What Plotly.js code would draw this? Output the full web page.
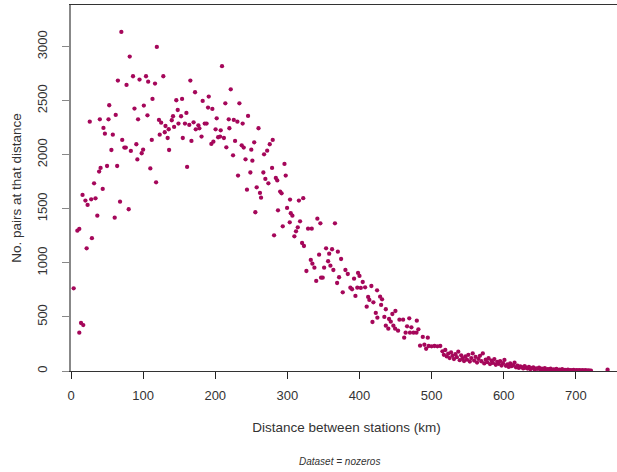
<!DOCTYPE html>
<html>
<head>
<meta charset="utf-8">
<script src="https://cdn.plot.ly/plotly-3.0.1.min.js"></script>
<style>
html, body { margin: 0; padding: 0; overflow: hidden; background: #fff; }
#chart { width: 625px; height: 472px; }
</style>
</head>
<body>
<div id="chart"></div>
<script>
// Distance between stations (km)
const distance = [
  3.7, 8.8, 11.5, 11.5, 13.9, 16, 17, 20, 21.7, 23, 26, 28, 29, 32, 34, 36.5, 39, 40, 41, 44,
  45, 47, 50, 52, 53, 56, 58, 60.6, 62, 64, 65, 68, 69.8, 71, 74, 76, 77, 80, 81.4, 83,
  86, 88, 90.6, 92, 93, 95, 98, 100, 101, 104, 106, 107, 110, 112, 113, 116.5, 118, 119, 122, 123,
  125, 128, 130, 131, 134, 135.5, 136, 139.7, 141.5, 143, 146, 148, 149, 152.6, 154, 155, 158, 160, 161, 164,
  165.5, 167, 170, 172, 173, 176.6, 178, 181, 182.6, 185.4, 188, 190, 191, 194.6, 196, 197.4, 200.5, 202, 204, 206.7,
  207.6, 209.4, 212, 214, 215.4, 218.7, 219.6, 221.5, 224.7, 225.7, 227.5, 230.7, 231.6, 233.5, 236.7, 238, 239.5, 242, 244, 245.5,
  248.7, 250, 251.5, 254, 255.6, 257.5, 260, 262, 263.5, 266.7, 267.7, 269.5, 272, 273.7, 275.6, 278.8, 279.7, 281.6, 284, 286,
  287, 290, 292, 293.6, 296, 297.7, 299.6, 303.3, 303.7, 304.7, 307, 309.7, 312, 314.4, 316, 317.6, 320.4, 322, 323, 326.4,
  328.7, 332.5, 333.8, 334.7, 337.5, 340, 341.6, 344, 345.8, 346.7, 349, 351, 353.7, 356.5, 358, 359.7, 362, 363.8, 366, 369,
  370, 371.7, 374.5, 376.8, 380.5, 383.8, 387.4, 389.7, 392.5, 394.4, 397, 398, 400, 401.8, 404.5, 407.8, 410, 412, 413.7, 416.5,
  418, 419.3, 422.6, 424.4, 424.8, 428.6, 430, 431.3, 434.5, 436.5, 436.5, 440, 441, 443.4, 445.6, 447, 449.4, 449.8, 453.5, 455.4,
  460.5, 462, 464, 466, 469, 470, 472, 475, 479, 479.5, 481.7, 484, 487.8, 490, 492.4, 494.7, 496, 500, 504, 508,
  512, 515, 517, 519, 521, 523, 525, 527, 529, 531, 533, 535, 537, 539, 541, 543, 545, 547, 549, 551,
  553, 555, 557, 559, 561, 563, 565, 567, 569, 571, 573, 575, 577, 579, 581, 583, 585, 587, 589, 591,
  593, 595, 597, 599, 601, 603, 605, 607, 609, 611, 613, 615, 617, 619, 621, 623, 625, 627, 629, 631,
  633, 635, 637, 639, 641, 643, 645, 647, 649, 651, 653, 655, 657, 659, 661, 663, 665, 667, 669, 671,
  673, 675, 677, 679, 681, 683, 685, 687, 689, 691, 693, 695, 697, 699, 701, 703, 705, 707, 709, 711,
  713, 715, 717, 719, 721, 744
];
// No. pairs at that distance
const pairs = [
  765, 1298, 1314, 354, 444, 1628, 425, 1576, 1135, 1536, 2306, 1588, 1228, 1736, 1597, 1437, 1844, 2328, 1878, 1684,
  2248, 2195, 1896, 2328, 2458, 2044, 2186, 1418, 2368, 1896, 2686, 1566, 3136, 2137, 2066, 2066, 2646, 1496, 2908, 2035,
  2726, 2427, 2097, 1957, 2328, 2695, 2014, 2047, 2455, 2726, 2365, 2676, 1874, 2137, 2516, 2658, 1745, 2997, 2322, 2186,
  2297, 2726, 2208, 2266, 2155, 2236, 2044, 2319, 2356, 2257, 2504, 2414, 2288, 2356, 2516, 2155, 2288, 2387, 1887, 2276,
  2686, 2128, 2300, 2578, 2235, 2272, 2244, 2168, 2498, 2288, 2288, 2436, 2538, 2100, 2424, 2121, 2235, 2337, 2162, 2168,
  2226, 2819, 2155, 2476, 2069, 2328, 2245, 2605, 1995, 2322, 2128, 2306, 1807, 2476, 2087, 2288, 2066, 1958, 1677, 2359,
  1836, 2047, 1945, 2115, 1468, 1699, 2245, 1647, 1603, 1836, 2004, 1776, 2038, 1736, 2097, 1878, 2137, 1255, 1785, 1763,
  1486, 1659, 1643, 1338, 1915, 1807, 1508, 1375, 1585, 1459, 1437, 1246, 1292, 1329, 1576, 1384, 1184, 1598, 1156, 925,
  1316, 1027, 1316, 993, 956, 833, 1409, 1076, 1366, 863, 863, 956, 1135, 1015, 1085, 974, 1126, 934, 1366, 814,
  1104, 867, 1036, 728, 934, 897, 771, 756, 854, 694, 771, 907, 879, 768, 823, 774, 595, 685, 657, 786,
  453, 635, 537, 746, 493, 687, 611, 663, 500, 571, 419, 391, 481, 456, 527, 419, 391, 555, 373, 475,
  475, 308, 354, 413, 487, 354, 404, 354, 354, 465, 385, 234, 315, 243, 206, 308, 231, 228, 231, 228,
  231, 182, 150, 194, 135, 160, 120, 172, 140, 110, 155, 128, 179, 100, 145, 118, 92, 134, 105, 150,
  88, 120, 163, 96, 130, 78, 112, 140, 90, 163, 70, 105, 82, 118, 64, 96, 75, 110, 58, 85,
  66, 92, 50, 72, 102, 48, 60, 38, 70, 45, 55, 77, 34, 50, 28, 42, 36, 24, 46, 30,
  22, 38, 18, 27, 34, 15, 25, 20, 30, 12, 22, 16, 26, 10, 18, 14, 22, 8, 15, 11,
  19, 7, 12, 9, 16, 6, 10, 8, 13, 5, 9, 6, 11, 4, 8, 5, 9, 3, 7, 4,
  8, 3, 6, 4, 3, 12
];
const xTicks = [0, 100, 200, 300, 400, 500, 600, 700];
const yTicks = [0, 500, 1000, 1500, 2000, 2500, 3000];

const font = "Liberation Sans, Arial, sans-serif";
const trace = {
  type: 'scatter',
  mode: 'markers',
  x: distance,
  y: pairs,
  marker: { color: '#A5075A', size: 4.3 },
  hoverinfo: 'x+y'
};
const layout = {
  width: 625,
  height: 472,
  margin: { l: 71, r: 3, t: 5, b: 101 },
  paper_bgcolor: '#fff',
  plot_bgcolor: '#fff',
  showlegend: false,
  font: { family: font, size: 13, color: '#333' },
  xaxis: {
    range: [0, 764],
    tickvals: xTicks,
    ticktext: xTicks.map(String),
    ticks: 'outside',
    ticklen: 7,
    tickcolor: '#222',
    tickwidth: 1,
    ticklabelstandoff: 5,
    showline: true,
    linecolor: '#333',
    linewidth: 1,
    mirror: true,
    showgrid: false,
    zeroline: false,
    automargin: false,
    title: { text: 'Distance between stations (km)', font: { family: font, size: 13.5, color: '#333' }, standoff: 20 }
  },
  yaxis: {
    range: [0, 3385],
    tickvals: yTicks,
    ticktext: yTicks.map(String),
    tickangle: -90,
    ticks: 'outside',
    ticklen: 7,
    tickcolor: '#888',
    tickwidth: 1,
    ticklabelstandoff: 10,
    showline: true,
    linecolor: '#888',
    linewidth: 2,
    mirror: false,
    showgrid: false,
    zeroline: false,
    automargin: false,
    title: { text: 'No. pairs at that distance', font: { family: font, size: 13.5, color: '#333' }, standoff: 10 }
  },
  annotations: [{
    text: 'Dataset = nozeros',
    xref: 'paper', yref: 'paper',
    x: 0.488, y: -0.248,
    xanchor: 'center', yanchor: 'middle',
    showarrow: false,
    font: { family: font, size: 10, color: '#333', style: 'italic' }
  }]
};
Plotly.newPlot('chart', [trace], layout, { displayModeBar: false, staticPlot: true });
</script>
</body>
</html>
